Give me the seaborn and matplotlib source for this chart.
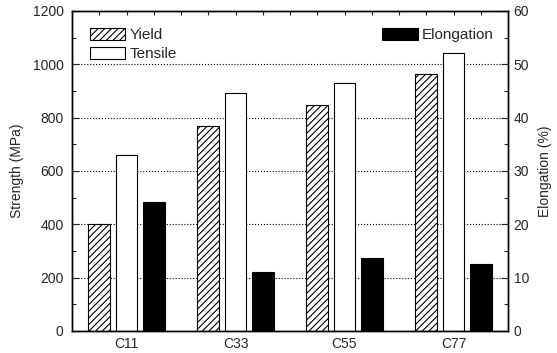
import pandas as pd
import matplotlib
matplotlib.use('Agg')
import matplotlib.pyplot as plt
import seaborn as sns
from matplotlib.ticker import MultipleLocator
from matplotlib.patches import Patch

# Values
samples = ['C11', 'C33', 'C55', 'C77']
yield_strength = [400, 770, 849, 965]
tensile_strength = [661, 894, 929, 1044]
elongation = [24.1, 11.0, 13.7, 12.5]

hue_order = ['Yield', 'Tensile', 'Elongation']
palette = {'Yield': 'white', 'Tensile': 'white', 'Elongation': 'black'}

strength_df = pd.DataFrame({
    'sample': samples * 2,
    'kind': ['Yield'] * len(samples) + ['Tensile'] * len(samples),
    'value': yield_strength + tensile_strength,
})
elong_df = pd.DataFrame({'sample': samples, 'kind': 'Elongation', 'value': elongation})

sns.set_style('ticks')
plt.rcParams['font.family'] = ['Liberation Sans', 'DejaVu Sans']
plt.rcParams['hatch.linewidth'] = 0.8

fig = plt.figure(figsize=(5.57, 3.53), dpi=100)
ax = fig.add_axes([72 / 557, 1 - 331 / 353, 436 / 557, 320 / 353])

sns.barplot(data=strength_df, x='sample', y='value', hue='kind', hue_order=hue_order,
            palette=palette, width=0.75, gap=0.2, dodge=True, edgecolor='black',
            linewidth=0.8, legend=False, ax=ax)
for bar in ax.containers[0]:
    bar.set_hatch('/////')

ax2 = ax.twinx()
sns.barplot(data=elong_df, x='sample', y='value', hue='kind', hue_order=hue_order,
            palette=palette, width=0.75, gap=0.2, dodge=True, edgecolor='black',
            linewidth=0.8, legend=False, ax=ax2)

# axes, ticks, grid
ax.set_xlim(-0.5, 3.5)
ax2.set_xlim(-0.5, 3.5)
ax.set_ylim(0, 1200)
ax2.set_ylim(0, 60)
ax.yaxis.set_major_locator(MultipleLocator(200))
ax.yaxis.set_minor_locator(MultipleLocator(100))
ax2.yaxis.set_major_locator(MultipleLocator(10))
ax2.yaxis.set_minor_locator(MultipleLocator(5))
ax.xaxis.set_minor_locator(MultipleLocator(0.25))
ax.xaxis.remove_overlapping_locs = False

ax.tick_params(axis='y', which='major', direction='in', length=5, width=0.8, labelsize=10, pad=6)
ax.tick_params(axis='y', which='minor', direction='in', length=3, width=0.8)
ax2.tick_params(axis='y', which='major', direction='in', length=5, width=0.8, labelsize=10, pad=4)
ax2.tick_params(axis='y', which='minor', direction='in', length=3, width=0.8)
ax.tick_params(axis='x', which='major', length=0, labelsize=10, pad=4)
ax.tick_params(axis='x', which='minor', top=True, bottom=False, direction='in', length=3, width=0.8)

ax.yaxis.grid(True, linestyle=':', color='black', linewidth=0.8)
ax.set_axisbelow(True)

for a in (ax, ax2):
    for s in a.spines.values():
        s.set_visible(True)
        s.set_linewidth(1.0)
        s.set_color('black')

ax.set_xlabel('')
ax.set_ylabel('Strength (MPa)', fontsize=10, labelpad=6)
ax2.set_ylabel('Elongation (%)', fontsize=10, labelpad=6)

# legends
h_yield = Patch(facecolor='white', edgecolor='black', hatch='/////', linewidth=0.8)
h_tens = Patch(facecolor='white', edgecolor='black', linewidth=0.8)
h_elong = Patch(facecolor='black', edgecolor='black', linewidth=0.8)

leg1 = ax.legend([h_yield, h_tens], ['Yield', 'Tensile'], loc='upper left',
                 bbox_to_anchor=(0.041, 0.946), frameon=False, fontsize=11,
                 handlelength=2.3, handleheight=0.8, handletextpad=0.3,
                 labelspacing=0.3, borderpad=0, borderaxespad=0)
leg2 = ax2.legend([h_elong], ['Elongation'], loc='upper right',
                  bbox_to_anchor=(0.968, 0.946), frameon=False, fontsize=11,
                  handlelength=2.3, handleheight=0.8, handletextpad=0.3,
                  borderpad=0, borderaxespad=0)

fig.savefig('out.png', dpi=100)
